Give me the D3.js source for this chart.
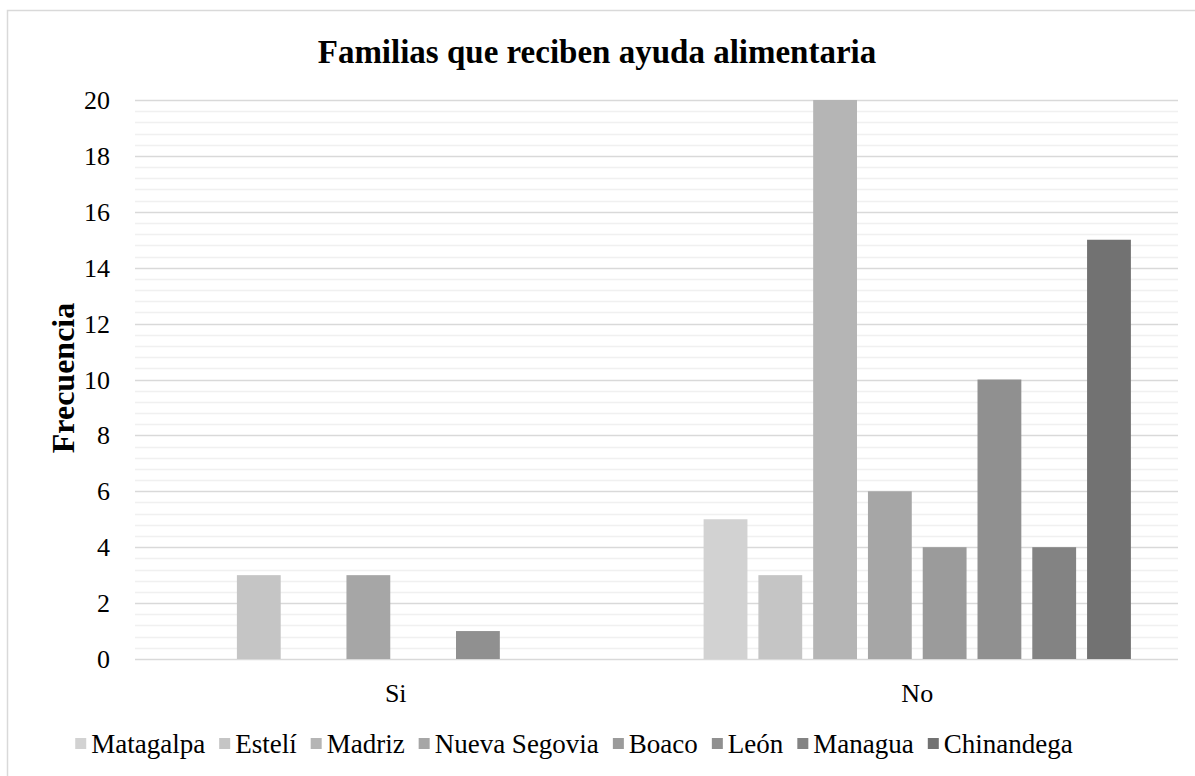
<!DOCTYPE html>
<html>
<head>
<meta charset="utf-8">
<script src="https://cdnjs.cloudflare.com/ajax/libs/d3/7.8.5/d3.min.js"></script>
<style>
  body { margin: 0; background: #fff; }
  svg text { font-family: "Liberation Serif", Tinos, "Times New Roman", "DejaVu Serif", serif; fill: #000; }
</style>
</head>
<body>
<script>
// data
var categories = ["Si", "No"];
var series = ["Matagalpa", "Estelí", "Madriz", "Nueva Segovia", "Boaco", "León", "Managua", "Chinandega"];
var siValues = [0, 3, 0, 3, 0, 1, 0, 0];
var noValues = [5, 3, 20, 6, 4, 10, 4, 15];
var colors = ["#d2d2d2", "#c5c5c5", "#b5b5b5", "#a6a6a6", "#9b9b9b", "#909090", "#838383", "#727272"];
var yTicks = [0, 2, 4, 6, 8, 10, 12, 14, 16, 18, 20];

var W = 1195, H = 776;
var plotLeft = 135, plotRight = 1178, plotTop = 100, plotBottom = 659;

var svg = d3.select("body").append("svg")
  .attr("width", W)
  .attr("height", H);

svg.append("rect")
  .attr("x", 7.5).attr("y", 10.5)
  .attr("width", 1200).attr("height", 800)
  .attr("fill", "none")
  .attr("stroke", "#d9d9d9")
  .attr("stroke-width", 1.5);

var y = d3.scaleLinear().domain([0, 20]).range([plotBottom, plotTop]);
var x0 = d3.scaleBand().domain(categories).range([plotLeft, plotRight]);
var x1 = d3.scaleBand().domain(series).range([0, x0.bandwidth()])
  .paddingInner(0.2).paddingOuter(0.86);
var color = d3.scaleOrdinal().domain(series).range(colors);

// minor gridlines
svg.append("g").selectAll("line")
  .data(d3.range(0, 20.01, 0.4).filter(function(d) { return Math.abs(d / 2 - Math.round(d / 2)) > 0.01; }))
  .enter().append("line")
  .attr("x1", plotLeft).attr("x2", plotRight)
  .attr("y1", function(d) { return Math.round(y(d)) + 0.5; })
  .attr("y2", function(d) { return Math.round(y(d)) + 0.5; })
  .attr("stroke", "#f0f0f0")
  .attr("stroke-width", 1.3);

// major gridlines
svg.append("g").selectAll("line")
  .data(yTicks)
  .enter().append("line")
  .attr("x1", plotLeft).attr("x2", plotRight)
  .attr("y1", function(d) { return Math.round(y(d)) + 0.5; })
  .attr("y2", function(d) { return Math.round(y(d)) + 0.5; })
  .attr("stroke", "#d9d9d9")
  .attr("stroke-width", 1.3);

// y tick labels
svg.append("g").selectAll("text")
  .data(yTicks)
  .enter().append("text")
  .attr("x", 110)
  .attr("y", function(d) { return y(d) + 9; })
  .attr("text-anchor", "end")
  .style("font-size", "26px")
  .text(function(d) { return d; });

// bars
var rows = categories.map(function(c, i) {
  var vals = i == 0 ? siValues : noValues;
  return { cat: c, vals: series.map(function(s, j) { return { name: s, v: vals[j] }; }) };
});

var groups = svg.append("g").selectAll("g")
  .data(rows)
  .enter().append("g")
  .attr("transform", function(d) { return "translate(" + x0(d.cat) + ",0)"; });

groups.selectAll("rect")
  .data(function(d) { return d.vals.filter(function(e) { return e.v > 0; }); })
  .enter().append("rect")
  .attr("x", function(d) { return x1(d.name); })
  .attr("width", x1.bandwidth())
  .attr("y", function(d) { return y(d.v); })
  .attr("height", function(d) { return y(0) - y(d.v); })
  .attr("fill", function(d) { return color(d.name); });

// category labels
svg.append("g").selectAll("text")
  .data(categories)
  .enter().append("text")
  .attr("x", function(d) { return x0(d) + x0.bandwidth() / 2; })
  .attr("y", 702)
  .attr("text-anchor", "middle")
  .style("font-size", "26px")
  .text(function(d) { return d; });

// title
svg.append("text")
  .attr("x", 597).attr("y", 63)
  .attr("text-anchor", "middle")
  .style("font-size", "33px")
  .style("font-weight", "bold")
  .text("Familias que reciben ayuda alimentaria");

// y axis title
svg.append("text")
  .attr("transform", "translate(74,378) rotate(-90)")
  .attr("text-anchor", "middle")
  .style("font-size", "32px")
  .style("font-weight", "bold")
  .text("Frecuencia");

// legend
var legend = svg.append("g");
var items = legend.selectAll("g")
  .data(series)
  .enter().append("g");
items.append("rect")
  .attr("width", 11).attr("height", 11)
  .attr("y", 738)
  .attr("fill", function(d) { return color(d); });
items.append("text")
  .attr("x", 16).attr("y", 753)
  .style("font-size", "27px")
  .text(function(d) { return d; });

var pos = 0;
var offsets = [];
items.each(function() {
  offsets.push(pos);
  var tw = d3.select(this).select("text").node().getComputedTextLength();
  pos += 16 + tw + 14;
});
var total = pos - 14;
var start = 574 - total / 2;
items.attr("transform", function(d, i) { return "translate(" + (start + offsets[i]) + ",0)"; });
</script>
</body>
</html>
